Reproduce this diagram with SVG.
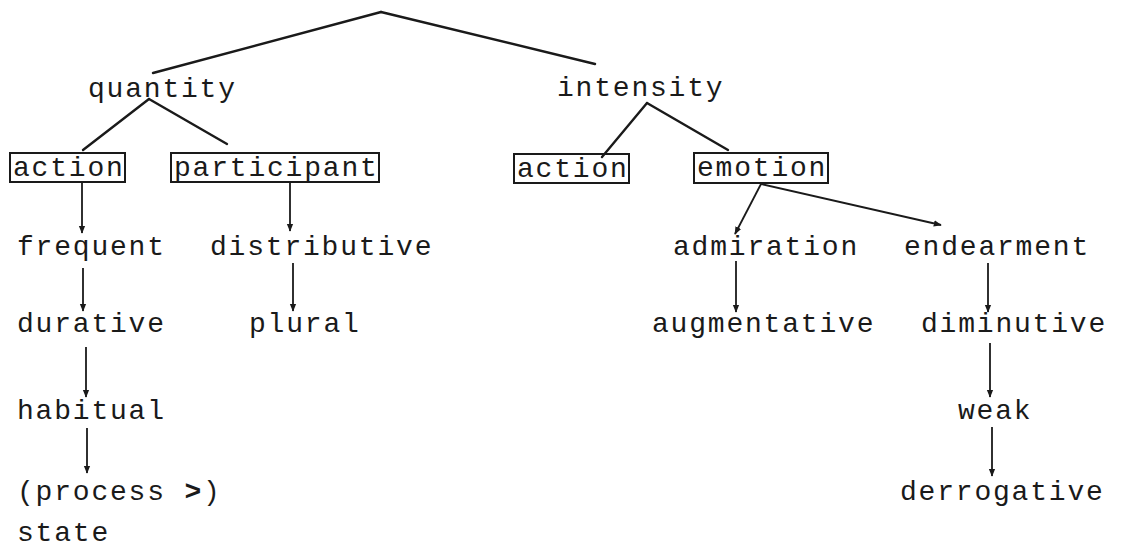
<svg xmlns="http://www.w3.org/2000/svg" width="1121" height="550" viewBox="0 0 1121 550">
<style>
  text { font-family: "Liberation Mono", "Courier New", monospace; font-size: 28px; letter-spacing: 1.8px; fill: #1a1a1a; }
  .box { fill: none; stroke: #1a1a1a; stroke-width: 2; }
  .ln { stroke: #1a1a1a; stroke-width: 2.4; fill: none; stroke-linecap: round; }
  .ar { stroke: #1a1a1a; stroke-width: 1.8; fill: none; marker-end: url(#ah); }
</style>
<defs>
  <marker id="ah" viewBox="0 0 10 10" refX="9" refY="5" markerWidth="8" markerHeight="8" markerUnits="userSpaceOnUse" orient="auto">
    <path d="M0,1 L10,5 L0,9 z" fill="#1a1a1a"/>
  </marker>
</defs>
<rect width="1121" height="550" fill="#ffffff"/>
<g id="connectors">
  <line class="ln" x1="381" y1="12" x2="153" y2="73"/>
  <line class="ln" x1="381" y1="12" x2="595" y2="64"/>
  <line class="ln" x1="149" y1="99" x2="83" y2="150"/>
  <line class="ln" x1="149" y1="99" x2="227" y2="144"/>
  <line class="ln" x1="647" y1="103" x2="602" y2="157"/>
  <line class="ln" x1="647" y1="103" x2="728" y2="150"/>
  <line class="ar" x1="761" y1="184" x2="735" y2="234"/>
  <line class="ar" x1="761" y1="184" x2="941" y2="225"/>
  <line class="ar" x1="82" y1="183" x2="82" y2="233"/>
  <line class="ar" x1="290" y1="183" x2="290" y2="231"/>
  <line class="ar" x1="83" y1="268" x2="83" y2="311"/>
  <line class="ar" x1="293" y1="263" x2="293" y2="311"/>
  <line class="ar" x1="86" y1="347" x2="86" y2="397"/>
  <line class="ar" x1="87" y1="428" x2="87" y2="473"/>
  <line class="ar" x1="736" y1="261" x2="736" y2="312"/>
  <line class="ar" x1="988" y1="263" x2="988" y2="312"/>
  <line class="ar" x1="990" y1="343" x2="990" y2="397"/>
  <line class="ar" x1="992" y1="427" x2="992" y2="476"/>
</g>
<g id="n-quantity"><text x="88" y="97">quantity</text></g>
<g id="n-intensity"><text x="557" y="96">intensity</text></g>
<g id="n-action-q"><rect class="box" x="10" y="153" width="115" height="29"/><text x="13" y="176">action</text></g>
<g id="n-participant"><rect class="box" x="171" y="153" width="208" height="29"/><text x="174" y="176">participant</text></g>
<g id="n-action-i"><rect class="box" x="514" y="154" width="115" height="29"/><text x="517" y="177">action</text></g>
<g id="n-emotion"><rect class="box" x="694" y="153" width="134" height="30"/><text x="697" y="176">emotion</text></g>
<g id="n-frequent"><text x="17" y="255">frequent</text></g>
<g id="n-distributive"><text x="210" y="255">distributive</text></g>
<g id="n-admiration"><text x="673" y="255">admiration</text></g>
<g id="n-endearment"><text x="904" y="255">endearment</text></g>
<g id="n-durative"><text x="17" y="332">durative</text></g>
<g id="n-plural"><text x="249" y="332">plural</text></g>
<g id="n-augmentative"><text x="652" y="332">augmentative</text></g>
<g id="n-diminutive"><text x="921" y="332">diminutive</text></g>
<g id="n-habitual"><text x="17" y="419">habitual</text></g>
<g id="n-weak"><text x="958" y="419">weak</text></g>
<g id="n-process"><text x="17" y="500">(process <tspan font-weight="bold">&gt;</tspan>)</text></g>
<g id="n-derrogative"><text x="900" y="500">derrogative</text></g>
<g id="n-state"><text x="17" y="541">state</text></g>
</svg>
